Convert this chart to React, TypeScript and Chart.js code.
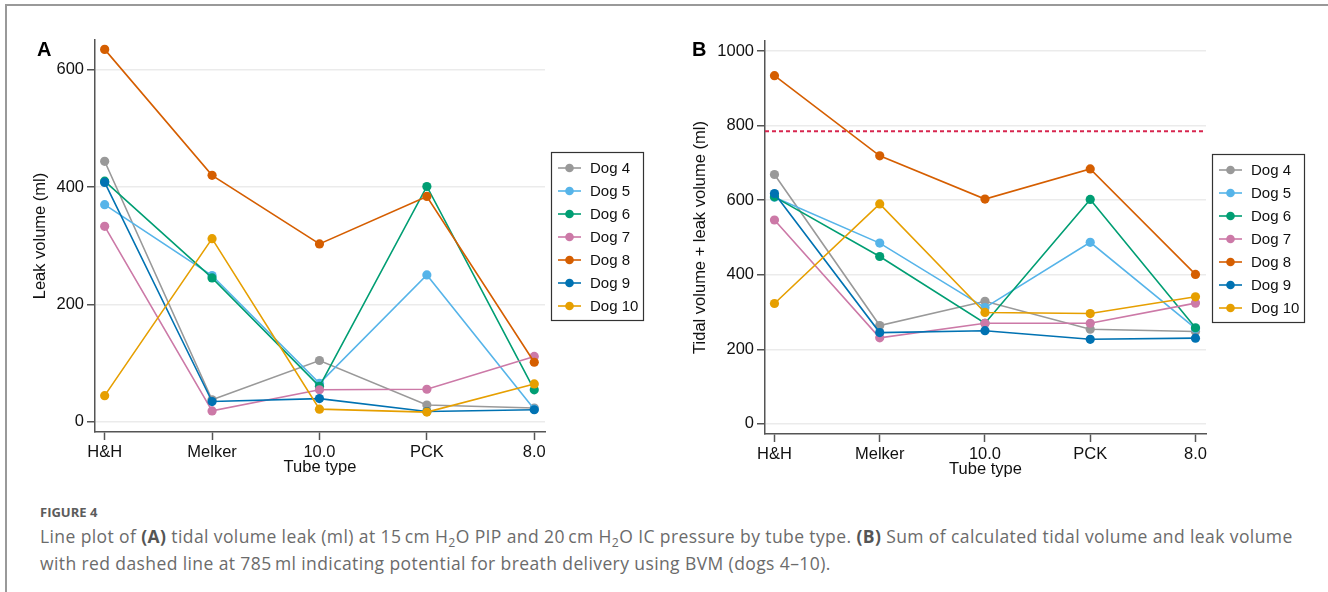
import React, { useEffect, useRef } from "react";
import { Chart, registerables } from "chart.js";

Chart.register(...registerables);

// ---------- data ----------
const tubeTypes = ["H&H", "Melker", "10.0", "PCK", "8.0"];
const dogLabels = ["Dog 4", "Dog 5", "Dog 6", "Dog 7", "Dog 8", "Dog 9", "Dog 10"];
const dogColors = ["#999999", "#56B4E9", "#009E73", "#CC79A7", "#D55E00", "#0072B2", "#E69F00"];

// Panel A: leak volume (ml)
const leakDog4 = [444, 37, 104, 28, 23];
const leakDog5 = [370, 249, 65, 250, 21];
const leakDog6 = [410, 245, 60, 401, 54];
const leakDog7 = [333, 18, 54, 55, 111];
const leakDog8 = [635, 420, 303, 384, 101];
const leakDog9 = [408, 34, 39, 17, 20];
const leakDog10 = [44, 312, 21, 16, 64];

// Panel B: tidal volume + leak volume (ml)
const totalDog4 = [669, 264, 329, 254, 248];
const totalDog5 = [608, 485, 312, 487, 256];
const totalDog6 = [609, 449, 270, 602, 258];
const totalDog7 = [547, 231, 270, 270, 324];
const totalDog8 = [934, 719, 603, 684, 401];
const totalDog9 = [618, 245, 250, 227, 230];
const totalDog10 = [323, 590, 299, 296, 341];

const leakTicks = [0, 200, 400, 600];
const totalTicks = [0, 200, 400, 600, 800, 1000];
const bvmThreshold = 785;

const leakSeries = [leakDog4, leakDog5, leakDog6, leakDog7, leakDog8, leakDog9, leakDog10];
const totalSeries = [totalDog4, totalDog5, totalDog6, totalDog7, totalDog8, totalDog9, totalDog10];

// ---------- styling ----------
const FONT = "'Liberation Sans', Arial, Helvetica, sans-serif";
const AXIS = "#555555";
const TEXT = "#111111";

const boxLegendPlugin = {
  id: "boxLegend",
  afterDraw(chart: any, _args: any, opts: any) {
    const { ctx, chartArea } = chart;
    const ds = chart.data.datasets;
    const rowH = 23;
    const w = 92;
    const h = 168;
    const left = chartArea.right + (opts.gap ?? 6);
    const top = Math.round((chartArea.top + chartArea.bottom) / 2 - h / 2);
    ctx.save();
    ctx.fillStyle = "#ffffff";
    ctx.fillRect(left, top, w, h);
    ctx.strokeStyle = "#333333";
    ctx.lineWidth = 1.2;
    ctx.strokeRect(left + 0.5, top + 0.5, w, h);
    ds.forEach((d: any, i: number) => {
      const y = top + 16 + i * rowH;
      ctx.strokeStyle = d.borderColor;
      ctx.lineWidth = 1.6;
      ctx.beginPath();
      ctx.moveTo(left + 7, y);
      ctx.lineTo(left + 30, y);
      ctx.stroke();
      ctx.fillStyle = d.borderColor;
      ctx.beginPath();
      ctx.arc(left + 18.5, y, 4.3, 0, Math.PI * 2);
      ctx.fill();
      ctx.fillStyle = TEXT;
      ctx.font = `15px ${FONT}`;
      ctx.textBaseline = "middle";
      ctx.textAlign = "left";
      ctx.fillText(d.label, left + 39, y + 1);
    });
    ctx.restore();
  },
};

const refLinePlugin = {
  id: "refLine",
  beforeDatasetsDraw(chart: any, _args: any, opts: any) {
    if (opts == null || opts.value == null) return;
    const { ctx, chartArea } = chart;
    const y = chart.scales.y.getPixelForValue(opts.value);
    ctx.save();
    ctx.strokeStyle = "#d7264f";
    ctx.lineWidth = 2;
    ctx.setLineDash([4, 3]);
    ctx.beginPath();
    ctx.moveTo(chartArea.left, y);
    ctx.lineTo(chartArea.right, y);
    ctx.stroke();
    ctx.restore();
  },
};

const panelLabelPlugin = {
  id: "panelLabel",
  afterDraw(chart: any, _args: any, opts: any) {
    if (!opts || !opts.text) return;
    const { ctx } = chart;
    ctx.save();
    ctx.fillStyle = "#000";
    ctx.font = `bold 20px ${FONT}`;
    ctx.textBaseline = "alphabetic";
    ctx.textAlign = "left";
    ctx.fillText(opts.text, opts.x, opts.y);
    ctx.restore();
  },
};

type PanelSpec = {
  series: number[][];
  yTicks: number[];
  yMin: number;
  yMax: number;
  yTitle: string;
  label: string;
  labelX: number;
  plotLeft: number;
  plotTop: number;
  plotRightPad: number;
  xAxisHeight: number;
  xTickPad: number;
  xTitlePad: number;
  threshold?: number;
};

function buildConfig(p: PanelSpec): any {
  const datasets = p.series.map((vals, i) => ({
    label: dogLabels[i],
    data: vals.map((v, j) => ({ x: j, y: v })),
    borderColor: dogColors[i],
    backgroundColor: dogColors[i],
    pointBackgroundColor: dogColors[i],
    pointBorderColor: dogColors[i],
    borderWidth: 1.6,
    pointRadius: 4.6,
    pointBorderWidth: 0,
    tension: 0,
    order: p.series.length - i,
  }));
  return {
    type: "line",
    data: { datasets },
    plugins: [boxLegendPlugin, refLinePlugin, panelLabelPlugin],
    options: {
      animation: false,
      responsive: false,
      maintainAspectRatio: false,
      devicePixelRatio: 1,
      layout: { padding: { left: 0, top: p.plotTop, right: p.plotRightPad, bottom: 0 } },
      plugins: {
        legend: { display: false },
        tooltip: { enabled: false },
        boxLegend: { gap: 6 },
        refLine: { value: p.threshold },
        panelLabel: { text: p.label, x: p.labelX, y: 56 },
      },
      scales: {
        x: {
          type: "linear",
          min: -0.09,
          max: 4.1,
          afterBuildTicks: (s: any) => {
            s.ticks = tubeTypes.map((_, i) => ({ value: i }));
          },
          afterFit: (s: any) => {
            s.height = p.xAxisHeight;
          },
          ticks: {
            callback: (_v: any, i: number) => tubeTypes[i],
            font: { family: FONT, size: 16.5 },
            color: TEXT,
            padding: p.xTickPad,
            maxRotation: 0,
            autoSkip: false,
          },
          grid: {
            drawOnChartArea: false,
            drawTicks: true,
            tickLength: 8,
            tickColor: AXIS,
            tickWidth: 1.5,
          },
          border: { display: true, color: AXIS, width: 1.5 },
          title: {
            display: true,
            text: "Tube type",
            font: { family: FONT, size: 16.5 },
            color: TEXT,
            padding: { top: 0, bottom: p.xTitlePad },
          },
        },
        y: {
          type: "linear",
          min: p.yMin,
          max: p.yMax,
          afterBuildTicks: (s: any) => {
            s.ticks = p.yTicks.map((v) => ({ value: v }));
          },
          afterFit: (s: any) => {
            s.width = p.plotLeft;
          },
          ticks: {
            callback: (v: any) => String(v),
            font: { family: FONT, size: 16.5 },
            color: TEXT,
            padding: 3,
          },
          grid: {
            color: "#ebebeb",
            lineWidth: 1.5,
            drawTicks: true,
            tickLength: 8,
            tickColor: AXIS,
            tickWidth: 1.5,
          },
          border: { display: true, color: AXIS, width: 1.5 },
          title: {
            display: true,
            text: p.yTitle,
            font: { family: FONT, size: 16.5 },
            color: TEXT,
            padding: { top: 31, bottom: 0 },
          },
        },
      },
    },
  };
}

function Panel({ spec, left, width }: { spec: PanelSpec; left: number; width: number }) {
  const ref = useRef<HTMLCanvasElement | null>(null);
  useEffect(() => {
    if (!ref.current) return;
    const chart = new Chart(ref.current, buildConfig(spec));
    return () => chart.destroy();
  }, [spec]);
  return (
    <canvas
      ref={ref}
      width={width}
      height={480}
      style={{ position: "absolute", left, top: 0, width, height: 480 }}
    />
  );
}

const specA: PanelSpec = {
  series: leakSeries,
  yTicks: leakTicks,
  yMin: -18,
  yMax: 651,
  yTitle: "Leak volume (ml)",
  label: "A",
  labelX: 37,
  plotLeft: 95,
  plotTop: 40,
  plotRightPad: 115,
  xAxisHeight: 48,
  xTickPad: 2.4,
  xTitlePad: 2.4,
};

const specB: PanelSpec = {
  series: totalSeries,
  yTicks: totalTicks,
  yMin: -27,
  yMax: 1027,
  yTitle: "Tidal volume + leak volume (ml)",
  label: "B",
  labelX: 32,
  plotLeft: 105,
  plotTop: 41,
  plotRightPad: 122,
  xAxisHeight: 46,
  xTickPad: 2.4,
  xTitlePad: 0.4,
  threshold: bvmThreshold,
};

const subStyle: React.CSSProperties = {
  fontSize: "0.7em",
  verticalAlign: "baseline",
  position: "relative",
  top: "0.3em",
};

const CAPTION_FONT = "'Open Sans', Lato, sans-serif";

export default function App() {
  return (
    <div
      style={{
        position: "absolute",
        left: 0,
        top: 0,
        width: 1328,
        height: 592,
        background: "#ffffff",
        overflow: "hidden",
      }}
    >
      <div
        style={{
          position: "absolute",
          left: 5,
          top: 4,
          width: 1328,
          height: 600,
          borderTop: "2px solid #999",
          borderLeft: "2px solid #999",
        }}
      />
      <Panel spec={specA} left={0} width={660} />
      <Panel spec={specB} left={660} width={668} />
      <div
        style={{
          position: "absolute",
          left: 40,
          top: 504,
          fontFamily: CAPTION_FONT,
          fontWeight: 700,
          fontSize: 13,
          lineHeight: "16px",
          color: "#5c5c5c",
          whiteSpace: "nowrap",
        }}
      >
        FIGURE 4
      </div>
      <div
        style={{
          position: "absolute",
          left: 40,
          top: 524,
          fontFamily: CAPTION_FONT,
          fontSize: 17.5,
          lineHeight: "24px",
          color: "#6b6b6b",
          whiteSpace: "nowrap",
          letterSpacing: "0.4px",
        }}
      >
        <div>
          Line plot of <b style={{ color: "#555" }}>(A)</b> tidal volume leak (ml) at 15{"\u2009"}cm H
          <span style={subStyle}>2</span>O PIP and 20{"\u2009"}cm H<span style={subStyle}>2</span>O IC pressure by
          tube type. <b style={{ color: "#555" }}>(B)</b> Sum of calculated tidal volume and leak volume
        </div>
        <div>with red dashed line at 785{"\u2009"}ml indicating potential for breath delivery using BVM (dogs 4–10).</div>
      </div>
    </div>
  );
}
